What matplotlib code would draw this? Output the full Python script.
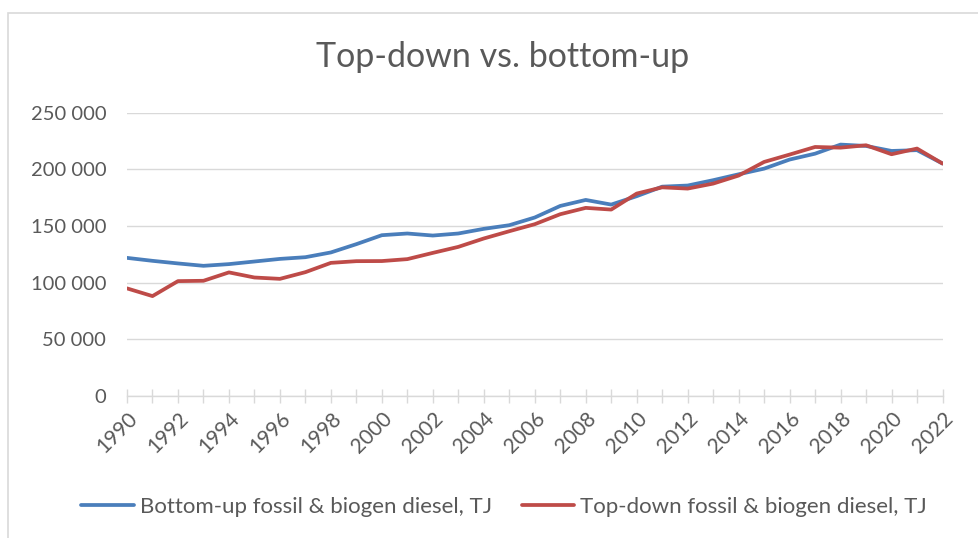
import matplotlib
matplotlib.use("Agg")
import matplotlib.pyplot as plt
from matplotlib.patches import Rectangle

years = list(range(1990, 2023))
bottom_up = [121800, 119200, 116900, 114800, 116300, 118600, 120900, 122400, 126600, 133900,
             141800, 143300, 141500, 143300, 147400, 150600, 157400, 167600, 172900, 168800,
             176200, 184600, 185600, 190300, 195500, 200500, 208500, 213700, 221700, 220500,
             216100, 216800, 205000]
top_down = [94900, 88100, 101300, 101600, 109000, 104500, 103300, 109200, 117400, 118900,
            119000, 120700, 126200, 131500, 138900, 145300, 151500, 160300, 165900, 164400,
            178500, 184000, 182900, 187300, 194400, 206400, 212900, 219600, 219000, 221100,
            213200, 218200, 205000]
series_labels = ["Bottom-up fossil & biogen diesel, TJ", "Top-down fossil & biogen diesel, TJ"]
title = "Top-down vs. bottom-up"
yticks = [0, 50000, 100000, 150000, 200000, 250000]
ytick_labels = ["0", "50 000", "100 000", "150 000", "200 000", "250 000"]
xtick_years = list(range(1990, 2023, 2))

W, H = 979, 538
plt.rcParams['font.family'] = ['Lato', 'DejaVu Sans']
fig = plt.figure(figsize=(W / 100, H / 100), dpi=100)
fig.patch.set_facecolor('white')

# outer chart frame (partially cropped)
fig.patches.append(Rectangle((8 / W, -0.1), 1.2, (H - 13.5) / H + 0.1, transform=fig.transFigure,
                             fill=False, edgecolor='#D9D9D9', linewidth=1.2))

left, right = 127 / W, 942.5 / W
bottom, top = (H - 396) / H, (H - 112.5) / H
ax = fig.add_axes([left, bottom, right - left, top - bottom])

blue = '#4A7EBB'
red = '#BE4B48'
ax.plot(years, bottom_up, color=blue, linewidth=2.7, label=series_labels[0], solid_capstyle='round')
ax.plot(years, top_down, color=red, linewidth=2.7, label=series_labels[1], solid_capstyle='round')

ax.set_xlim(1990, 2022)
ax.set_ylim(0, 250000)
ax.set_yticks(yticks)
ax.set_yticklabels(ytick_labels)
ax.yaxis.grid(True, color='#D9D9D9', linewidth=1.0)
ax.set_axisbelow(True)
ax.tick_params(axis='y', length=0, pad=15, labelsize=14.5, labelcolor='#595959')

ax.set_xticks(years, minor=True)
ax.set_xticks(xtick_years)
ax.set_xticklabels([str(y) for y in xtick_years], rotation=45, ha='right', rotation_mode='anchor')
ax.tick_params(axis='x', which='both', direction='inout', length=10, width=1.0, color='#D9D9D9',
               labelsize=15, labelcolor='#595959', pad=4)

for s in ['top', 'right', 'left']:
    ax.spines[s].set_visible(False)
ax.spines['bottom'].set_color('#D9D9D9')
ax.spines['bottom'].set_linewidth(1.0)

fig.text(503 / W, 1 - 57 / H, title, ha='center', va='center', fontsize=24.5, color='#595959')

fig.legend(loc='center', bbox_to_anchor=(504 / W, 1 - 507 / H), ncol=2, frameon=False,
           fontsize=16, handlelength=2.35, handletextpad=0.27, columnspacing=1.35, labelcolor='#595959')

fig.savefig('out.png', dpi=100, facecolor='white')
